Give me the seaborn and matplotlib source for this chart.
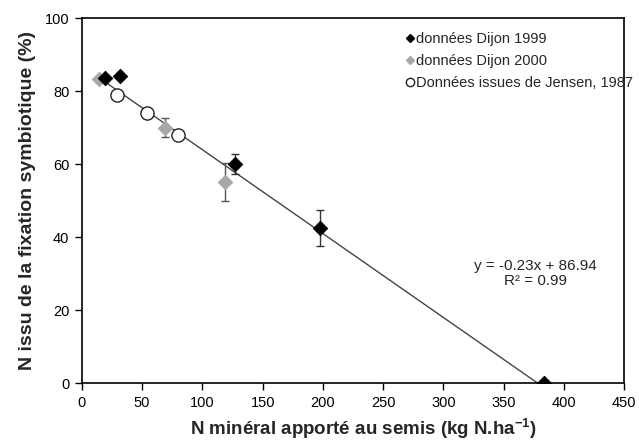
import matplotlib
matplotlib.use("Agg")
import matplotlib.pyplot as plt
import seaborn as sns
import pandas as pd
from matplotlib.lines import Line2D

# Data
x_1999 = [19, 32, 127, 197.5, 383]
y_1999 = [83.5, 84.0, 60.0, 42.5, 0.0]
err_1999 = [0, 0, 2.7, 5.0, 0]

x_2000 = [14, 69, 119]
y_2000 = [83.3, 70.0, 55.0]
err_2000 = [0, 2.5, 5.2]

x_jensen = [29, 54.5, 80]
y_jensen = [79.0, 74.0, 68.0]

slope = -0.23
intercept = 86.94
line_x = [14, 380]

labels = ["données Dijon 1999", "données Dijon 2000", "Données issues de Jensen, 1987"]
eq_text = "y = -0.23x + 86.94\nR² = 0.99"

sns.set_style("white")
plt.rcParams['font.family'] = ['Liberation Sans', 'DejaVu Sans']

fig = plt.figure(figsize=(6.39, 4.41), dpi=100)
ax = fig.add_axes([0.128, 0.1315, 0.849, 0.8275])

# regression line
line_df = pd.DataFrame({"x": line_x, "y": [slope * v + intercept for v in line_x]})
sns.lineplot(data=line_df, x="x", y="y", ax=ax, color="#444444", linewidth=1.0, zorder=1)

# error bars
ax.errorbar(x_1999, y_1999, yerr=err_1999, fmt="none", ecolor="#333333",
            elinewidth=1.0, capsize=3, capthick=1.0, zorder=2)
ax.errorbar(x_2000, y_2000, yerr=err_2000, fmt="none", ecolor="#555555",
            elinewidth=1.0, capsize=3, capthick=1.0, zorder=2)

# points
sns.scatterplot(x=x_jensen, y=y_jensen, ax=ax, marker="o", s=90,
                facecolor="white", edgecolor="#222222", linewidth=1.0, zorder=3)
sns.scatterplot(x=x_2000, y=y_2000, ax=ax, marker="D", s=55,
                color="#a8a8a8", edgecolor="#a8a8a8", zorder=4)
sns.scatterplot(x=x_1999, y=y_1999, ax=ax, marker="D", s=55,
                color="black", edgecolor="black", zorder=5)

ax.set_xlim(0, 450)
ax.set_ylim(0, 100)
ax.set_xticks(range(0, 451, 50))
ax.set_yticks(range(0, 101, 20))
ax.tick_params(axis="both", which="both", direction="out", length=5, width=1,
               labelsize=10.5, colors="black", bottom=True, left=True, pad=4)
for sp in ax.spines.values():
    sp.set_color("black")
    sp.set_linewidth(1.2)

ax.set_xlabel("N minéral apporté au semis (kg N.ha$^{\\mathregular{-1}}$)",
              fontsize=13.5, fontweight="bold", labelpad=5)
ax.xaxis.label.set_x(0.52)
ax.set_ylabel("N issu de la fixation symbiotique (%)",
              fontsize=14, fontweight="bold", labelpad=6)

ax.text(0.836, 0.30, eq_text, transform=ax.transAxes, ha="center", va="center",
        fontsize=11, linespacing=1.1)

handles = [
    Line2D([], [], marker="D", color="black", linestyle="none", markersize=4.5),
    Line2D([], [], marker="D", color="#a8a8a8", linestyle="none", markersize=4.5),
    Line2D([], [], marker="o", markerfacecolor="white", markeredgecolor="#222222",
           linestyle="none", markersize=6),
]
leg = ax.legend(handles, labels, loc="upper right", bbox_to_anchor=(1.035, 0.99),
                frameon=False, fontsize=10.5, handletextpad=0.05, handlelength=0.8,
                labelspacing=0.55, borderaxespad=0.3)

fig.savefig("out.png", dpi=100)
